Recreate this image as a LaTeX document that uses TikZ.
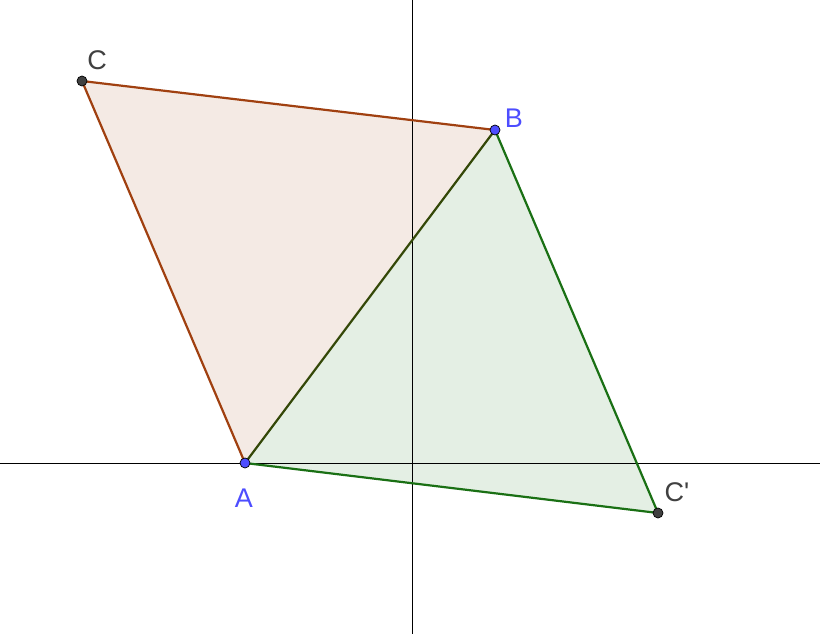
\documentclass[tikz,border=0pt]{standalone}
\usepackage{fontspec}
\newfontfamily\lblfont{Liberation Sans}
\definecolor{brownl}{RGB}{160,64,16}
\definecolor{brownf}{RGB}{244,234,228}
\definecolor{greenl}{RGB}{26,112,20}
\definecolor{greenf}{RGB}{228,239,228}
\definecolor{olive}{RGB}{52,72,8}
\definecolor{ptblue}{RGB}{77,77,255}
\definecolor{ptgray}{RGB}{64,64,64}
\tikzset{
  pt/.style={circle,draw=black,line width=0.7pt,inner sep=0pt,minimum size=10pt},
  lbl/.style={font=\lblfont\fontsize{27}{27}\selectfont,inner sep=0pt}
}
\begin{document}
\begin{tikzpicture}[x=1pt,y=-1pt]
\useasboundingbox (0,0) rectangle (820,634);
\fill[white] (0,0) rectangle (820,634);
\coordinate (A) at (245,463);
\coordinate (B) at (495,130);
\coordinate (C) at (82,81);
\coordinate (Cp) at (658,513);
\coordinate (xl) at (0,463);
\coordinate (xr) at (820,463);
\coordinate (yt) at (412,0);
\coordinate (yb) at (412,634);
\fill[brownf] (A) -- (B) -- (C) -- cycle;
\fill[greenf] (A) -- (B) -- (Cp) -- cycle;
\draw[line width=1pt] (xl) -- (xr);
\draw[line width=1pt] (yt) -- (yb);
\draw[brownl,line width=2.2pt] (B) -- (C) -- (A);
\draw[greenl,line width=2.2pt] (B) -- (Cp) -- (A);
\draw[olive,line width=2.2pt] (A) -- (B);
\node[pt,fill=ptblue] (pA) at (A) {};
\node[pt,fill=ptblue] (pB) at (B) {};
\node[pt,fill=ptgray] (pC) at (C) {};
\node[pt,fill=ptgray] (pCp) at (Cp) {};
\node[lbl,text=ptblue] (lA) at (244,498) {A};
\node[lbl,text=ptblue] (lB) at (514,118) {B};
\node[lbl,text=ptgray] (lC) at (97,60) {C};
\node[lbl,text=ptgray] (lCp) at (677,492) {C'};
\end{tikzpicture}
\end{document}
